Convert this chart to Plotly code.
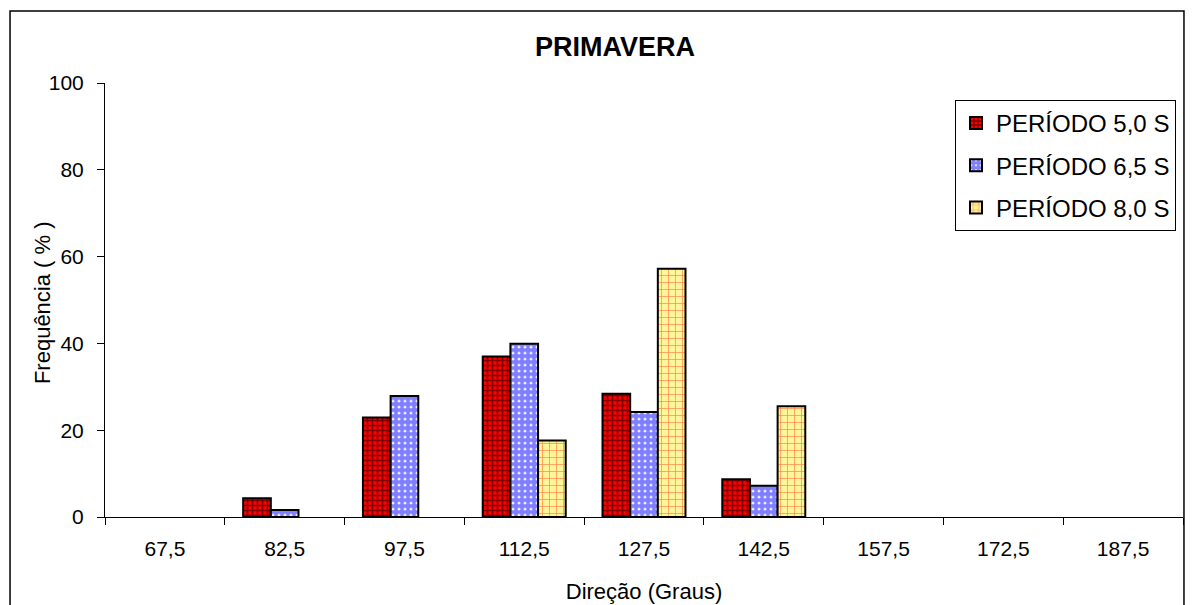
import plotly.graph_objects as go

# direcoes (categorias) e frequencias (%) por periodo; None = sem barra
direcoes = ["67,5", "82,5", "97,5", "112,5", "127,5", "142,5", "157,5", "172,5", "187,5"]
periodo_50 = [None, 4.3, 22.9, 37.0, 28.4, 8.7, None, None, None]
periodo_65 = [None, 1.6, 27.9, 39.9, 24.2, 7.2, None, None, None]
periodo_80 = [None, None, None, 17.6, 57.2, 25.5, None, None, None]
nomes = ["PERÍODO 5,0 S", "PERÍODO 6,5 S", "PERÍODO 8,0 S"]

FONTE = "Arial, Liberation Sans, sans-serif"

estilos = [
    dict(bgcolor="#FF0000", fgcolor="#000000", shape="+", size=5, solidity=0.55),
    dict(bgcolor="#FFFFFF", fgcolor="#0000FF", shape=".", size=6, solidity=0.8),
    dict(bgcolor="#FFF59A", fgcolor="#FF2000", shape="+", size=7, solidity=0.2),
]

fig = go.Figure()
for nome, valores, est, grupo in zip(nomes, [periodo_50, periodo_65, periodo_80], estilos, ["a", "b", "c"]):
    fig.add_trace(go.Bar(
        x=direcoes,
        y=valores,
        name=nome,
        legendgroup=grupo,
        marker=dict(
            color=est["bgcolor"],
            line=dict(color="black", width=2),
            pattern=dict(shape=est["shape"], fgcolor=est["fgcolor"], bgcolor=est["bgcolor"],
                         size=est["size"], solidity=est["solidity"], fillmode="overlay"),
        ),
    ))

# borda externa do grafico
fig.add_shape(type="rect", xref="paper", yref="paper",
              x0=-0.0881, x1=1.0009, y0=-0.3, y1=1.166,
              line=dict(color="black", width=1.5), fillcolor="rgba(0,0,0,0)", layer="below")

# titulo do eixo y como anotacao (fica sobre a coluna dos rotulos, como no original)
fig.add_annotation(text="Frequência ( % )", xref="paper", yref="paper",
                   x=-0.0584, y=0.493, xanchor="center", yanchor="middle",
                   textangle=-90, showarrow=False, font=dict(size=22, family=FONTE))

# a pagina tem margem de 8px, por isso a figura e 8px menor
fig.update_layout(
    width=1191, height=597,
    paper_bgcolor="white", plot_bgcolor="white",
    margin=dict(l=97, r=16, t=75, b=88, autoexpand=False),
    font=dict(family=FONTE, size=21, color="black"),
    title=dict(text="<b>PRIMAVERA</b>", x=0.5097, xanchor="center", y=0.9347, yanchor="middle",
               font=dict(size=27, family=FONTE)),
    barmode="group", bargap=0.307, bargroupgap=0,
    showlegend=True,
    legend=dict(x=0.7885, y=0.961, xanchor="left", yanchor="top",
                bgcolor="white", bordercolor="black", borderwidth=1,
                font=dict(size=24, family=FONTE), tracegroupgap=8,
                itemwidth=30),
    xaxis=dict(
        type="category", tickson="boundaries", ticks="outside", ticklen=7,
        tickcolor="black", showline=True, linecolor="black", linewidth=1,
        showgrid=False, ticklabelstandoff=13, automargin=False,
        title=dict(text="Direção (Graus)", standoff=24, font=dict(size=22)),
        tickfont=dict(size=21),
    ),
    yaxis=dict(
        range=[0, 100], tick0=0, dtick=20, ticks="outside", ticklen=7,
        tickcolor="black", showline=True, linecolor="black", linewidth=1,
        showgrid=False, zeroline=False, ticklabelstandoff=9, automargin=False,
        tickfont=dict(size=21),
    ),
)

fig.write_html("out.html")
